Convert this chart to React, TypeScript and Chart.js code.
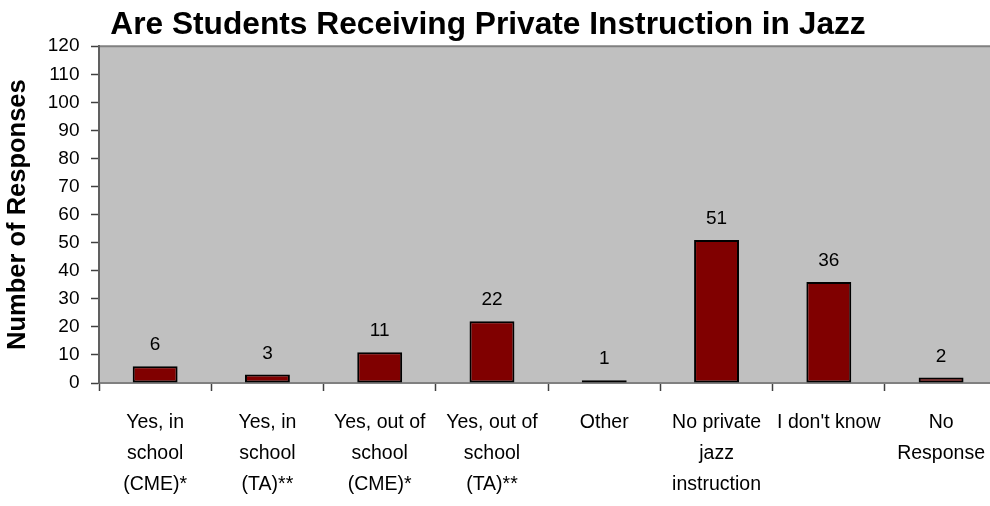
import React, { useEffect, useRef } from "react";
import { Chart, registerables } from "chart.js";

Chart.register(...registerables);

const chartTitle = "Are Students Receiving Private Instruction in Jazz";
const yAxisTitle = "Number of Responses";
const categories: (string | string[])[] = [
  ["Yes, in", "school", "(CME)*"],
  ["Yes, in", "school", "(TA)**"],
  ["Yes, out of", "school", "(CME)*"],
  ["Yes, out of", "school", "(TA)**"],
  "Other",
  ["No private", "jazz", "instruction"],
  "I don't know",
  ["No", "Response"],
];
const responses = [6, 3, 11, 22, 1, 51, 36, 2];
const yMin = 0;
const yMax = 120;
const yStep = 10;

const LABEL_FONT = "'Liberation Sans', Arial, sans-serif";
const ARIAL = "Arial, 'Liberation Sans', sans-serif";

const plotBg = {
  id: "plotBg",
  beforeDraw(chart: any) {
    const { ctx, chartArea } = chart;
    if (!chartArea) return;
    ctx.save();
    ctx.fillStyle = "#C0C0C0";
    ctx.fillRect(chartArea.left, chartArea.top, chartArea.right - chartArea.left, chartArea.bottom - chartArea.top);
    ctx.strokeStyle = "#808080";
    ctx.lineWidth = 2;
    ctx.beginPath();
    ctx.moveTo(chartArea.left, chartArea.top);
    ctx.lineTo(chartArea.right, chartArea.top);
    ctx.stroke();
    ctx.restore();
  },
};

const valueLabels = {
  id: "valueLabels",
  afterDatasetsDraw(chart: any) {
    const { ctx } = chart;
    const meta = chart.getDatasetMeta(0);
    const data = chart.data.datasets[0].data;
    ctx.save();
    ctx.font = `19px ${LABEL_FONT}`;
    ctx.fillStyle = "#000";
    ctx.textAlign = "center";
    ctx.textBaseline = "middle";
    meta.data.forEach((bar: any, i: number) => {
      ctx.fillText(String(data[i]), bar.x, bar.y - 21);
    });
    ctx.restore();
  },
};

export default function App() {
  const ref = useRef<HTMLCanvasElement>(null);

  useEffect(() => {
    if (!ref.current) return;
    const chart = new Chart(ref.current, {
      type: "bar",
      data: {
        labels: categories,
        datasets: [
          {
            data: responses,
            backgroundColor: "#800000",
            borderColor: "#000000",
            borderWidth: 2,
            borderSkipped: false,
            barPercentage: 0.4,
            categoryPercentage: 1,
          },
        ],
      },
      options: {
        animation: false,
        responsive: false,
        devicePixelRatio: 1,
        layout: { padding: { left: 0, right: 0, top: 0, bottom: 6 } },
        plugins: {
          legend: { display: false },
          tooltip: { enabled: false },
          title: {
            display: true,
            text: chartTitle,
            color: "#000",
            font: { family: ARIAL, size: 31.7, weight: "bold", lineHeight: 1.2 },
            padding: { top: 6.2, bottom: 2 },
          },
        },
        scales: {
          x: {
            grid: {
              display: true,
              drawOnChartArea: false,
              drawTicks: true,
              tickLength: 8,
              tickColor: "#404040",
              tickWidth: 1.5,
              offset: true,
            },
            border: { display: true, color: "#808080", width: 2 },
            ticks: {
              color: "#000",
              padding: 16,
              maxRotation: 0,
              autoSkip: false,
              font: { family: LABEL_FONT, size: 19.5, lineHeight: "31px" },
            },
            afterFit(scale: any) {
              scale.height = 117;
            },
          },
          y: {
            min: yMin,
            max: yMax,
            grid: {
              display: true,
              drawOnChartArea: false,
              drawTicks: true,
              tickLength: 8,
              tickColor: "#404040",
              tickWidth: 1.5,
            },
            border: { display: true, color: "#606060", width: 2 },
            ticks: {
              stepSize: yStep,
              autoSkip: false,
              color: "#000",
              padding: 11.5,
              font: { family: LABEL_FONT, size: 19 },
            },
            title: {
              display: true,
              text: yAxisTitle,
              color: "#000",
              font: { family: ARIAL, size: 25.5, weight: "bold", lineHeight: 1.2 },
              padding: { top: 27.5, bottom: 0 },
            },
            afterFit(scale: any) {
              scale.width = 124;
            },
          },
        },
      },
      plugins: [plotBg, valueLabels],
    });
    return () => chart.destroy();
  }, []);

  return (
    <div
      style={{
        position: "fixed",
        left: 0,
        top: 0,
        width: 990,
        height: 506,
        overflow: "hidden",
        background: "#fff",
      }}
    >
      <canvas
        ref={ref}
        width={1026}
        height={506}
        style={{ position: "absolute", left: -25, top: 0, width: 1026, height: 506 }}
      />
    </div>
  );
}
